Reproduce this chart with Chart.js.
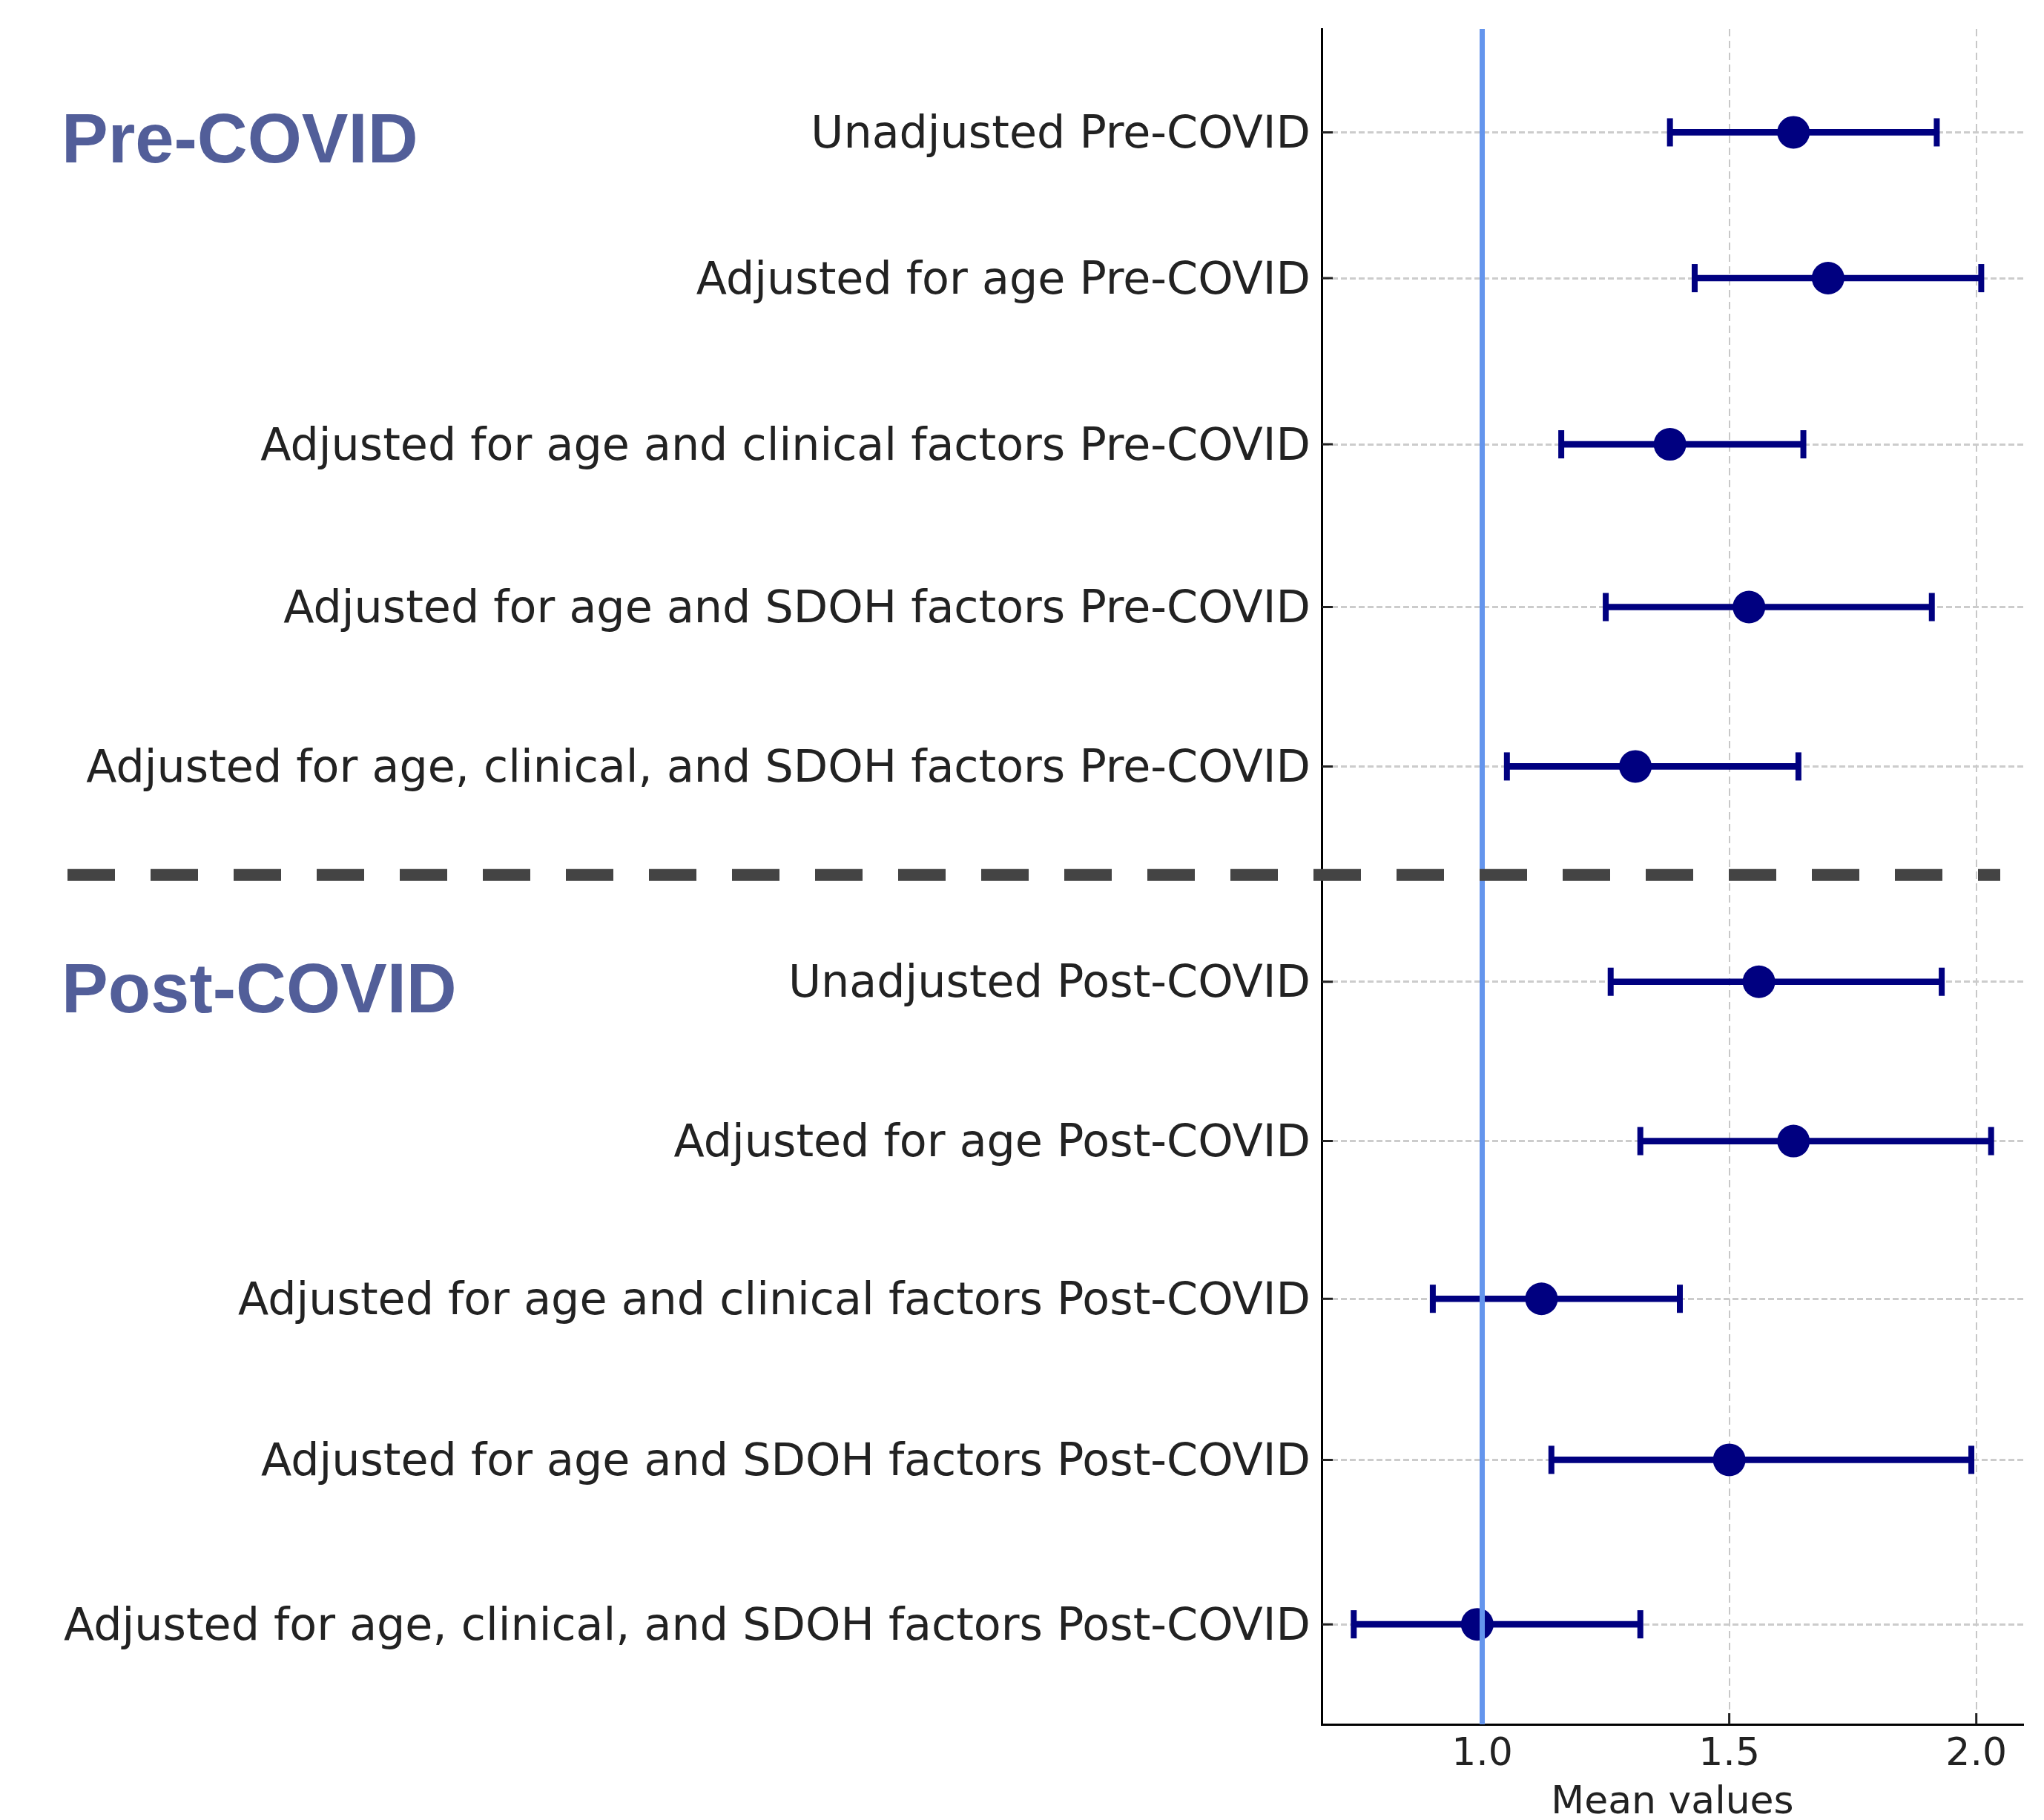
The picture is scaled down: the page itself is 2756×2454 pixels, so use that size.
<!DOCTYPE html>
<html>
<head>
<meta charset="utf-8">
<script src="https://cdn.jsdelivr.net/npm/chart.js@4.4.1/dist/chart.umd.min.js"></script>
<style>
  html, body { margin: 0; padding: 0; background: #fff; }
  #wrap { width: 2756px; height: 2454px; }
</style>
</head>
<body>
<div id="wrap"><canvas id="forest" width="2756" height="2454"></canvas></div>
<script>
// Rows, top to bottom
const rowLabels = [
    'Unadjusted Pre-COVID',
    'Adjusted for age Pre-COVID',
    'Adjusted for age and clinical factors Pre-COVID',
    'Adjusted for age and SDOH factors Pre-COVID',
    'Adjusted for age, clinical, and SDOH factors Pre-COVID',
    'Unadjusted Post-COVID',
    'Adjusted for age Post-COVID',
    'Adjusted for age and clinical factors Post-COVID',
    'Adjusted for age and SDOH factors Post-COVID',
    'Adjusted for age, clinical, and SDOH factors Post-COVID'
];
// where each row sits on the y axis (0 = top, 10 = bottom)
const rowPos = [0.61, 1.47, 2.45, 3.41, 4.35, 5.62, 6.56, 7.49, 8.44, 9.41];

const means = [1.63, 1.70, 1.38, 1.54, 1.31, 1.56, 1.63, 1.12, 1.50, 0.99];
const lower = [1.38, 1.43, 1.16, 1.25, 1.05, 1.26, 1.32, 0.90, 1.14, 0.74];
const upper = [1.92, 2.01, 1.65, 1.91, 1.64, 1.93, 2.03, 1.40, 1.99, 1.32];

const xTicks = [1.0, 1.5, 2.0];
const refValue = 1.0;

const groupTitles = ['Pre-COVID', 'Post-COVID'];
const groupFirstRow = [0, 5];
const separatorPos = 4.99;

const NAVY = '#000080';

// small inward tick marks on both spines
const innerTicks = {
    id: 'innerTicks',
    beforeDatasetsDraw(chart) {
        const {ctx, scales: {x, y}} = chart;
        ctx.save();
        ctx.strokeStyle = '#222';
        ctx.lineWidth = 3;
        ctx.beginPath();
        rowPos.forEach(v => {
            const py = y.getPixelForValue(v);
            ctx.moveTo(x.left, py);
            ctx.lineTo(x.left + 15, py);
        });
        xTicks.forEach(v => {
            const px = x.getPixelForValue(v);
            ctx.moveTo(px, y.bottom);
            ctx.lineTo(px, y.bottom - 15);
        });
        ctx.stroke();
        ctx.restore();
    }
};

// dashed separator + section headings
const sections = {
    id: 'sections',
    afterDraw(chart) {
        const {ctx, scales: {y}} = chart;
        const sy = y.getPixelForValue(separatorPos);
        ctx.save();
        ctx.strokeStyle = '#444';
        ctx.lineWidth = 16;
        ctx.setLineDash([64, 48]);
        ctx.beginPath();
        ctx.moveTo(91, sy);
        ctx.lineTo(2697, sy);
        ctx.stroke();
        ctx.restore();

        ctx.save();
        ctx.fillStyle = '#525E99';
        ctx.font = 'bold 94px "Liberation Sans", Arial, sans-serif';
        ctx.textAlign = 'left';
        ctx.textBaseline = 'alphabetic';
        groupTitles.forEach((t, i) => {
            ctx.fillText(t, 83, y.getPixelForValue(rowPos[groupFirstRow[i]]) + 41);
        });
        ctx.restore();
    }
};

const meanPoints = means.map((m, i) => ({x: m, y: rowPos[i]}));
const capPoints = [];
lower.forEach((l, i) => {
    capPoints.push({x: l, y: rowPos[i]});
    capPoints.push({x: upper[i], y: rowPos[i]});
});
const ciBars = lower.map((l, i) => ({x: [l, upper[i]], y: rowPos[i]}));

new Chart(document.getElementById('forest'), {
    type: 'scatter',
    data: {
        datasets: [
            {
                // reference line at 1.0
                type: 'line',
                data: [{x: refValue, y: 0}, {x: refValue, y: 10}],
                borderColor: '#6495ED',
                borderWidth: 7,
                pointRadius: 0,
                order: 0
            },
            {
                data: meanPoints,
                backgroundColor: NAVY,
                borderColor: NAVY,
                borderWidth: 0,
                pointRadius: 22,
                order: 1
            },
            {
                // caps
                data: capPoints,
                pointStyle: 'line',
                rotation: 90,
                pointRadius: 19,
                borderColor: NAVY,
                borderWidth: 8,
                order: 2
            },
            {
                type: 'bar',
                indexAxis: 'y',
                data: ciBars,
                backgroundColor: NAVY,
                barThickness: 8,
                order: 3
            }
        ]
    },
    options: {
        responsive: false,
        animation: false,
        layout: { padding: { top: 39, right: 28, bottom: 0, left: 0 } },
        plugins: {
            legend: { display: false },
            tooltip: { enabled: false }
        },
        scales: {
            x: {
                type: 'linear',
                min: 0.675,
                max: 2.095,
                afterBuildTicks: s => { s.ticks = xTicks.map(v => ({value: v})); },
                afterFit: s => { s.height = 129; s.paddingLeft = 0; s.paddingRight = 0; },
                ticks: {
                    callback: v => Number(v).toFixed(1),
                    font: { family: "'DejaVu Sans', sans-serif", size: 52 },
                    color: '#222',
                    padding: 10,
                    autoSkip: false,
                    maxRotation: 0
                },
                grid: { color: '#c8c8c8', lineWidth: 2, drawTicks: false },
                border: { display: true, color: '#000', width: 3, dash: [10, 6] },
                title: {
                    display: true,
                    text: 'Mean values',
                    font: { family: "'DejaVu Sans', sans-serif", size: 52, lineHeight: 0.88 },
                    color: '#222',
                    padding: 0
                }
            },
            y: {
                type: 'linear',
                min: 0,
                max: 10,
                reverse: true,
                offset: false,
                afterBuildTicks: s => { s.ticks = rowPos.map(v => ({value: v})); },
                afterFit: s => { s.width = 1782; s.paddingTop = 0; s.paddingBottom = 0; },
                ticks: {
                    callback: (v, i) => rowLabels[i],
                    font: { family: "'DejaVu Sans', sans-serif", size: 60.3 },
                    color: '#222',
                    padding: 15,
                    labelOffset: 5,
                    autoSkip: false
                },
                grid: { color: '#cccccc', lineWidth: 3, drawTicks: false, offset: false },
                border: { display: true, color: '#000', width: 3, dash: [8, 4] }
            }
        }
    },
    plugins: [innerTicks, sections]
});
</script>
</body>
</html>
